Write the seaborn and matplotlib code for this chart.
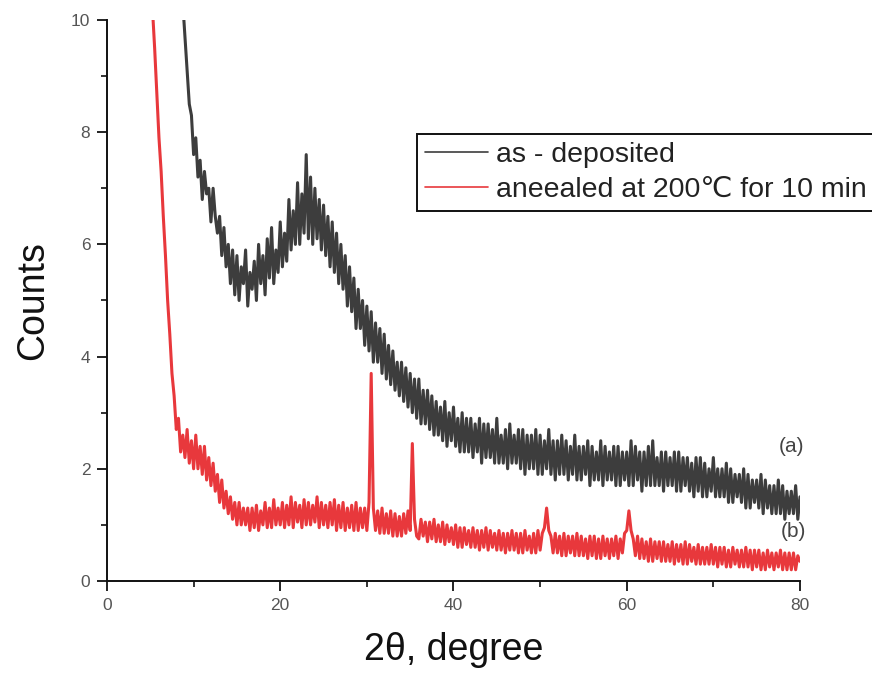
import numpy as np
import pandas as pd
import matplotlib
matplotlib.use("Agg")
import matplotlib.pyplot as plt
import seaborn as sns

# ---------------- data ----------------
STEP = 0.25
as_dep_start = 8.75
as_dep_counts = [
    10.3,
    9.7, 9.1, 8.5, 8.3,
    7.6, 7.9, 7.2, 7.5,
    6.8, 7.3, 6.9, 7.0,
    6.4, 7.0, 6.5, 6.2,
    6.5, 5.8, 6.3, 5.6,
    6.0, 5.3, 5.9, 5.1,
    5.8, 5.0, 5.6, 5.3,
    5.9, 4.9, 5.5, 5.2,
    5.7, 5.0, 6.0, 5.3,
    5.8, 5.1, 6.1, 5.4,
    6.3, 5.3, 5.9, 5.5,
    6.4, 5.6, 6.2, 5.7,
    6.8, 5.9, 6.6, 6.0,
    7.1, 6.0, 6.9, 6.2,
    7.6, 6.1, 7.2, 6.0,
    7.0, 6.1, 6.8, 5.9,
    6.7, 5.8, 6.5, 5.6,
    6.4, 5.5, 6.2, 5.3,
    6.0, 5.2, 5.8, 4.9,
    5.6, 4.8, 5.4, 4.5,
    5.2, 4.5, 5.0, 4.2,
    4.9, 4.1, 4.8, 3.9,
    4.6, 3.9, 4.5, 3.7,
    4.4, 3.6, 4.2, 3.5,
    4.1, 3.4, 3.9, 3.3,
    3.9, 3.2, 3.8, 3.1,
    3.7, 3.0, 3.6, 2.9,
    3.6, 2.8, 3.4, 2.8,
    3.4, 2.7, 3.3, 2.6,
    3.2, 2.6, 3.1, 2.5,
    3.2, 2.4, 3.0, 2.5,
    3.1, 2.4, 2.9, 2.3,
    3.0, 2.3, 2.9, 2.3,
    2.9, 2.2, 2.8, 2.3,
    2.9, 2.1, 2.8, 2.2,
    2.8, 2.2, 2.7, 2.1,
    2.9, 2.1, 2.6, 2.1,
    2.7, 2.0, 2.8, 2.1,
    2.6, 2.1, 2.7, 2.0,
    2.7, 1.9, 2.6, 2.0,
    2.6, 2.0, 2.7, 1.9,
    2.6, 1.9, 2.5, 2.0,
    2.7, 1.9, 2.5, 1.8,
    2.5, 1.9, 2.6, 1.9,
    2.5, 1.8, 2.4, 1.9,
    2.6, 1.8, 2.4, 1.8,
    2.4, 1.9, 2.5, 1.7,
    2.4, 1.8, 2.3, 1.8,
    2.5, 1.7, 2.4, 1.8,
    2.3, 1.8, 2.4, 1.7,
    2.4, 1.7, 2.3, 1.8,
    2.3, 1.7, 2.5, 1.7,
    2.4, 1.8, 2.3, 1.6,
    2.3, 1.7, 2.4, 1.7,
    2.5, 1.7, 2.2, 1.7,
    2.3, 1.6, 2.3, 1.7,
    2.2, 1.7, 2.3, 1.6,
    2.3, 1.6, 2.2, 1.7,
    2.2, 1.6, 2.1, 1.5,
    2.2, 1.6, 2.2, 1.5,
    2.1, 1.5, 2.0, 1.6,
    2.2, 1.5, 2.0, 1.5,
    2.0, 1.5, 2.1, 1.4,
    2.0, 1.4, 1.9, 1.5,
    1.9, 1.4, 2.0, 1.3,
    1.9, 1.3, 1.8, 1.4,
    1.8, 1.3, 1.9, 1.2,
    1.8, 1.3, 1.7, 1.2,
    1.7, 1.2, 1.8, 1.2,
    1.7, 1.1, 1.6, 1.2,
    1.6, 1.2, 1.7, 1.1,
    1.5,
]

annealed_start = 5.25
annealed_counts = [
    10.2, 9.5, 8.7,
    7.9, 7.3, 6.5, 5.8,
    5.0, 4.4, 3.7, 3.3,
    2.7, 2.9, 2.3, 2.6,
    2.2, 2.7, 2.1, 2.5,
    2.0, 2.6, 2.0, 2.4,
    1.9, 2.4, 1.8, 2.2,
    1.7, 2.1, 1.6, 1.9,
    1.4, 1.8, 1.3, 1.6,
    1.2, 1.5, 1.1, 1.4,
    1.0, 1.4, 1.0, 1.3,
    1.0, 1.3, 0.9, 1.3,
    0.95, 1.35, 0.9, 1.25,
    1.0, 1.4, 0.95, 1.3,
    0.95, 1.45, 1.0, 1.3,
    1.0, 1.4, 0.95, 1.35,
    1.0, 1.5, 0.95, 1.4,
    1.05, 1.35, 0.95, 1.45,
    1.0, 1.4, 1.0, 1.35,
    1.05, 1.5, 0.95, 1.4,
    1.0, 1.35, 0.95, 1.4,
    1.0, 1.45, 0.9, 1.35,
    0.95, 1.4, 0.9, 1.3,
    0.95, 1.35, 0.9, 1.4,
    0.9, 1.3, 0.95, 1.3,
    0.9, 1.4, 3.7, 1.3,
    0.9, 1.25, 0.85, 1.3,
    0.85, 1.2, 0.85, 1.25,
    0.8, 1.2, 0.8, 1.15,
    0.8, 1.2, 0.85, 1.25,
    0.9, 2.45, 1.1, 0.8,
    0.75, 1.1, 0.8, 1.05,
    0.7, 1.05, 0.75, 1.1,
    0.7, 1.0, 0.7, 1.05,
    0.65, 1.0, 0.7, 0.95,
    0.65, 1.0, 0.6, 0.95,
    0.6, 0.95, 0.65, 0.9,
    0.6, 0.95, 0.6, 0.9,
    0.55, 0.9, 0.6, 0.95,
    0.55, 0.9, 0.6, 0.85,
    0.55, 0.9, 0.55, 0.85,
    0.5, 0.85, 0.55, 0.9,
    0.55, 0.85, 0.5, 0.85,
    0.5, 0.9, 0.55, 0.8,
    0.5, 0.85, 0.5, 0.9,
    0.55, 0.85, 0.95, 1.3,
    0.9, 0.8, 0.5, 0.85,
    0.5, 0.8, 0.45, 0.85,
    0.45, 0.8, 0.5, 0.8,
    0.45, 0.85, 0.45, 0.8,
    0.45, 0.75, 0.4, 0.8,
    0.45, 0.8, 0.4, 0.75,
    0.4, 0.8, 0.45, 0.75,
    0.4, 0.75, 0.45, 0.8,
    0.4, 0.75, 0.5, 0.85,
    0.9, 1.25, 0.9, 0.75,
    0.45, 0.8, 0.4, 0.75,
    0.4, 0.7, 0.35, 0.75,
    0.35, 0.7, 0.4, 0.7,
    0.35, 0.7, 0.35, 0.65,
    0.35, 0.7, 0.3, 0.65,
    0.35, 0.65, 0.3, 0.7,
    0.3, 0.65, 0.35, 0.6,
    0.3, 0.65, 0.3, 0.6,
    0.3, 0.6, 0.3, 0.65,
    0.3, 0.6, 0.25, 0.6,
    0.3, 0.6, 0.25, 0.55,
    0.25, 0.6, 0.3, 0.55,
    0.25, 0.55, 0.25, 0.6,
    0.25, 0.55, 0.2, 0.55,
    0.25, 0.55, 0.2, 0.5,
    0.2, 0.55, 0.25, 0.5,
    0.2, 0.5, 0.25, 0.55,
    0.2, 0.5, 0.2, 0.5,
    0.2, 0.5, 0.2, 0.45,
    0.35,
]

series_labels = ["as - deposited", "aneealed at 200\u2103 for 10 min"]
curve_tags = ["(a)", "(b)"]
tag_positions = [(77.6, 2.4), (77.8, 0.88)]
x_ticks = [0, 20, 40, 60, 80]
y_ticks = [0, 2, 4, 6, 8, 10]

# ---------------- build table ----------------
x_a = as_dep_start + STEP * np.arange(len(as_dep_counts))
x_b = annealed_start + STEP * np.arange(len(annealed_counts))
df = pd.concat([
    pd.DataFrame({"two_theta": x_a, "counts": as_dep_counts, "sample": series_labels[0]}),
    pd.DataFrame({"two_theta": x_b, "counts": annealed_counts, "sample": series_labels[1]}),
], ignore_index=True)

# ---------------- plot ----------------
sns.set_theme(style="ticks")
plt.rcParams["font.family"] = ["Liberation Sans", "DejaVu Sans"]

fig = plt.figure(figsize=(8.72, 6.84), dpi=100)
ax = fig.add_axes([0.1227, 0.1506, 0.7947, 0.8202])

palette = {series_labels[0]: "#3d3d3d", series_labels[1]: "#e8383c"}
sns.lineplot(data=df, x="two_theta", y="counts", hue="sample", palette=palette,
             ax=ax, linewidth=2.2, estimator=None, sort=False)

ax.set_xlim(0, 80)
ax.set_ylim(0, 10)
ax.set_xticks(x_ticks)
ax.set_yticks(y_ticks)
ax.set_xticks([10, 30, 50, 70], minor=True)
ax.set_yticks([1, 3, 5, 7, 9], minor=True)
for s in ["top", "right"]:
    ax.spines[s].set_visible(False)
for s in ["left", "bottom"]:
    ax.spines[s].set_linewidth(1.4)
    ax.spines[s].set_color("#111111")
ax.tick_params(axis="both", which="major", direction="out", length=7, width=1.3,
               labelsize=12.5, labelcolor="#555555", color="#111111", pad=5)
ax.tick_params(axis="both", which="minor", direction="out", length=4, width=1.2,
               color="#111111")

ax.set_xlabel("2\u03b8, degree", fontsize=27, color="#111111", labelpad=14)
ax.set_ylabel("Counts", fontsize=27, color="#111111", labelpad=14)

leg = ax.legend(loc="upper left", bbox_to_anchor=(0.447, 0.797), fontsize=20.5,
                frameon=True, fancybox=False, framealpha=1, edgecolor="#111111",
                handlelength=2.2, handletextpad=0.3, borderpad=0.3,
                labelspacing=0.3, borderaxespad=0)
leg.get_frame().set_linewidth(1.4)
for line in leg.get_lines():
    line.set_linewidth(1.2)
for t in leg.get_texts():
    t.set_color("#222222")

for tag, (tx, ty) in zip(curve_tags, tag_positions):
    ax.text(tx, ty, tag, fontsize=15, color="#444444", ha="left", va="center")

fig.savefig("out.png", dpi=100)
